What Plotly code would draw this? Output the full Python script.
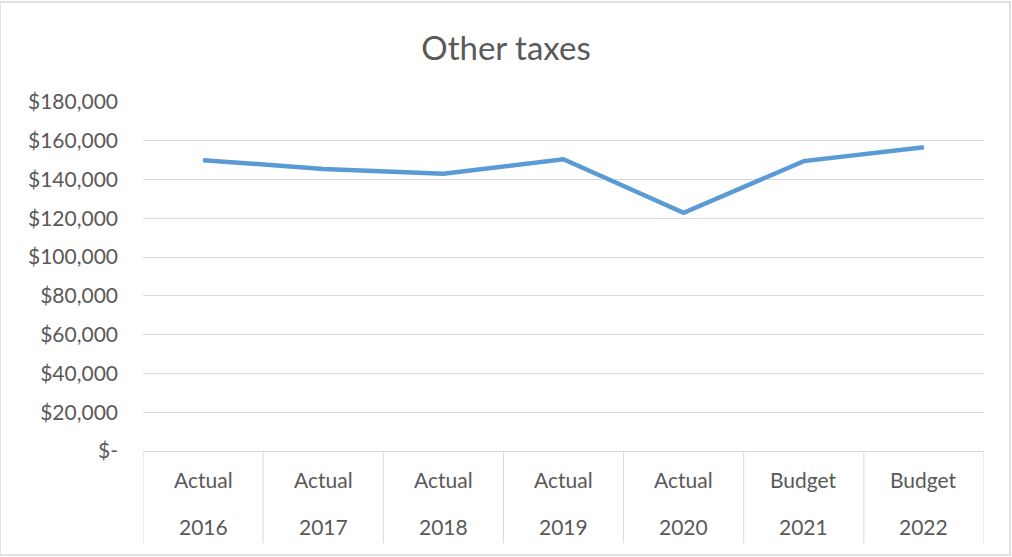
import plotly.graph_objects as go

# Data
scenario = ["Actual", "Actual", "Actual", "Actual", "Actual", "Budget", "Budget"]
years = ["2016", "2017", "2018", "2019", "2020", "2021", "2022"]
other_taxes = [150000, 145500, 143000, 150500, 122800, 149500, 156700]

y_tick_values = [0, 20000, 40000, 60000, 80000, 100000, 120000, 140000, 160000, 180000]
y_tick_labels = ["$-", "$20,000", "$40,000", "$60,000", "$80,000", "$100,000",
                 "$120,000", "$140,000", "$160,000", "$180,000"]

categories = [f"{s} {y}" for s, y in zip(scenario, years)]

FONT = "Lato"
TEXT = "#595959"
GRID = "#D9D9D9"

fig = go.Figure()
fig.add_trace(go.Scatter(
    x=categories,
    y=other_taxes,
    mode="lines",
    line=dict(color="#5B9BD5", width=4.5),
    hoverinfo="x+y",
))

# Two-row category labels under the axis
annotations = []
for cat, s, y in zip(categories, scenario, years):
    annotations.append(dict(x=cat, xref="x", y=-0.081, yref="paper", yanchor="middle",
                            text=s, showarrow=False,
                            font=dict(family=FONT, size=21, color=TEXT)))
    annotations.append(dict(x=cat, xref="x", y=-0.216, yref="paper", yanchor="middle",
                            text=y, showarrow=False,
                            font=dict(family=FONT, size=21, color=TEXT)))

# Vertical dividers between categories
shapes = []
for i in range(len(categories) + 1):
    shapes.append(dict(type="line", xref="x", yref="paper",
                       x0=i - 0.5, x1=i - 0.5, y0=0, y1=-0.264,
                       line=dict(color=GRID, width=1)))
# Chart border
shapes.append(dict(type="rect", xref="paper", yref="paper",
                   x0=-143 / 841, x1=(841 + 26) / 841, y0=-104 / 349, y1=(349 + 100) / 349,
                   line=dict(color=GRID, width=1.5), fillcolor="rgba(0,0,0,0)", layer="below"))

fig.update_layout(
    width=1012, height=557,
    margin=dict(l=143, r=28, t=102, b=106),
    paper_bgcolor="white", plot_bgcolor="white",
    showlegend=False,
    title=dict(text="Other taxes", x=0.5, xanchor="center", y=1 - 48 / 557, yanchor="middle",
               font=dict(family=FONT, size=33, color=TEXT)),
    xaxis=dict(
        type="category",
        categoryorder="array", categoryarray=categories,
        range=[-0.5, len(categories) - 0.5],
        showticklabels=False, showgrid=False, zeroline=False,
        showline=True, linecolor=GRID, linewidth=1,
        ticks="",
    ),
    yaxis=dict(
        range=[0, 180000],
        tickvals=y_tick_values, ticktext=y_tick_labels,
        showgrid=True, gridcolor=GRID, gridwidth=1,
        zeroline=False, showline=False, ticks="",
        ticklabelstandoff=24,
        tickfont=dict(family=FONT, size=21, color=TEXT),
    ),
    annotations=annotations,
    shapes=shapes,
)

fig.write_html("out.html")
